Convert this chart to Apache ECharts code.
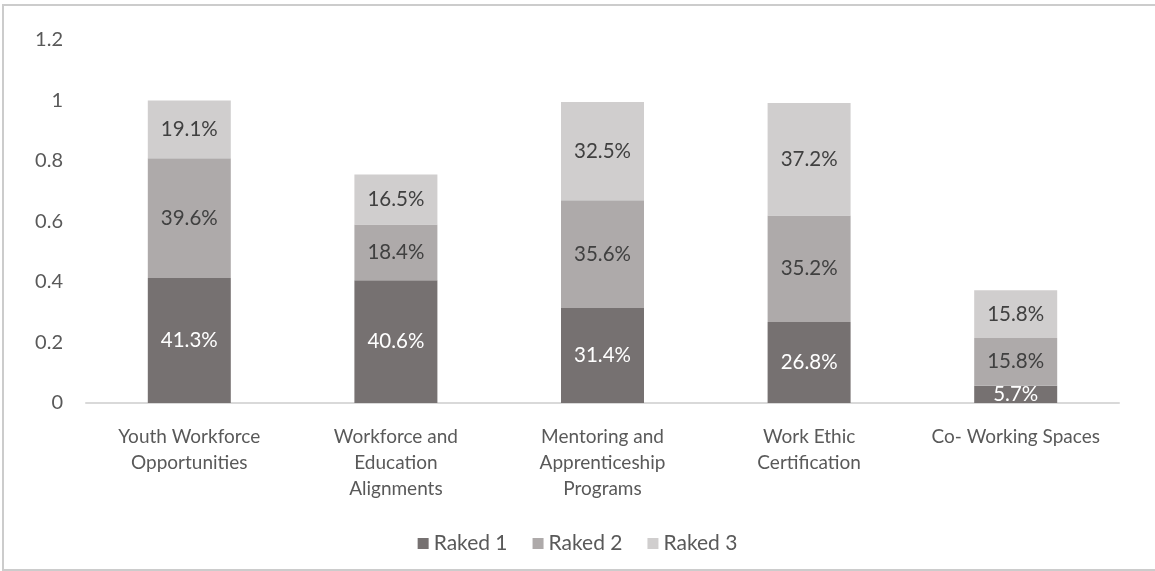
<!DOCTYPE html>
<html>
<head>
<meta charset="utf-8">
<script src="https://cdn.jsdelivr.net/npm/echarts@6/dist/echarts.min.js"></script>
<style>html,body{margin:0;padding:0;background:#fff;}#c{width:1155px;height:571px;}</style>
</head>
<body>
<div id="c"></div>
<script>
const categories = ['Youth Workforce\nOpportunities', 'Workforce and\nEducation\nAlignments', 'Mentoring and\nApprenticeship\nPrograms', 'Work Ethic\nCertification', 'Co- Working Spaces'];
const seriesNames = ['Raked 1', 'Raked 2', 'Raked 3'];
const raked1 = [0.413, 0.406, 0.314, 0.268, 0.057];
const raked2 = [0.396, 0.184, 0.356, 0.352, 0.158];
const raked3 = [0.191, 0.165, 0.325, 0.372, 0.158];
const yTicks = { min: 0, max: 1.2, interval: 0.2 };

const FONT = 'Lato';
const colors = ['#767171', '#aeaaaa', '#d0cece'];
const labelColors = ['#ffffff', '#404040', '#404040'];
const data = [raked1, raked2, raked3];

const chart = echarts.init(document.getElementById('c'));
chart.setOption({
  animation: false,
  textStyle: { fontFamily: FONT },
  graphic: [{
    type: 'rect', shape: { x: 3, y: 5, width: 1160, height: 565 },
    style: { fill: 'none', stroke: '#cccccc', lineWidth: 2 }, silent: true, z: -1
  }],
  grid: { left: 86, right: 36, top: 40, bottom: 168 },
  legend: {
    bottom: 12, left: 'center',
    itemWidth: 11, itemHeight: 11, itemGap: 25,
    icon: 'rect',
    textStyle: { fontFamily: FONT, fontSize: 21, color: '#595959' },
    data: seriesNames
  },
  xAxis: {
    type: 'category', data: categories,
    axisLine: { lineStyle: { color: '#d9d9d9', width: 2 } },
    axisTick: { show: false },
    axisLabel: { color: '#595959', fontSize: 19, lineHeight: 26, margin: 21, interval: 0, fontFamily: FONT }
  },
  yAxis: {
    type: 'value', min: yTicks.min, max: yTicks.max, interval: yTicks.interval,
    splitLine: { show: false },
    axisLine: { show: false }, axisTick: { show: false },
    axisLabel: { color: '#595959', fontSize: 20, margin: 23, fontFamily: FONT }
  },
  series: seriesNames.map((name, i) => ({
    name, type: 'bar', stack: 'total', barWidth: 83,
    data: data[i],
    itemStyle: { color: colors[i] },
    label: {
      show: true, position: 'inside', color: labelColors[i], fontSize: 20.5, fontFamily: FONT,
      formatter: p => (p.value * 100).toFixed(1) + '%'
    }
  }))
});
</script>
</body>
</html>
